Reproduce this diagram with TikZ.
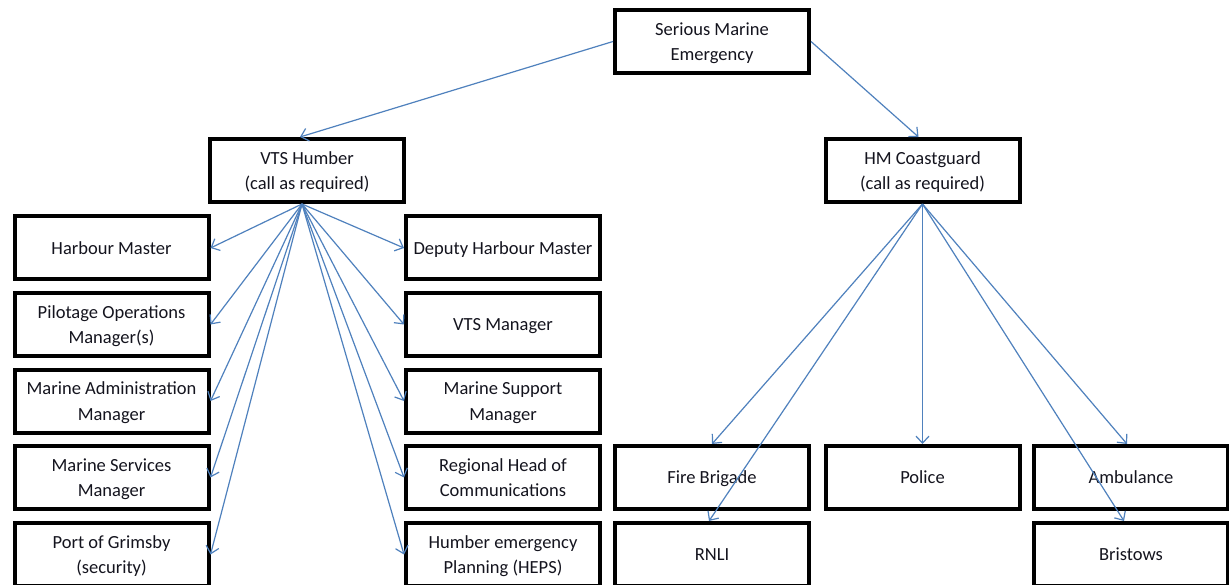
\documentclass[tikz,border=0pt]{standalone}
\usepackage{fontspec}
\setmainfont{Carlito}
\usetikzlibrary{arrows.meta}
\definecolor{lnblue}{RGB}{79,129,189}
\definecolor{txt}{RGB}{20,20,30}
\begin{document}
\begin{tikzpicture}[x=1pt,y=-1pt,
  box/.style={draw=black, line width=4pt, minimum width=194pt, minimum height=63pt,
    align=center, inner sep=0pt, text=txt, text depth=0pt, font=\fontsize{18.5}{25.5}\selectfont},
  conn/.style={draw=lnblue, line width=1.2pt, -{Straight Barb[length=7pt,width=13pt,line width=1.2pt]}}]
\useasboundingbox (0,0) rectangle (1229,585);
\clip (0,0) rectangle (1229,585);
\fill[white] (0,0) rectangle (1229,585);

% top
\node[box] (sme) at (712,41.5) {Serious Marine\\Emergency};
\node[box] (vts) at (307,170.5) {VTS Humber\\(call as required)};
\node[box] (hmc) at (922.5,170.5) {HM Coastguard\\(call as required)};

% VTS left column
\node[box] (hm)  at (111.5,248)   {Harbour Master};
\node[box] (pom) at (111.5,324.5) {Pilotage Operations\\Manager(s)};
\node[box] (mam) at (111.5,401)   {Marine Administration\\Manager};
\node[box] (msm) at (111.5,477.5) {Marine Services\\Manager};
\node[box] (pog) at (111.5,554.5) {Port of Grimsby\\(security)};

% VTS right column
\node[box] (dhm) at (503,248)   {Deputy Harbour Master};
\node[box] (vtm) at (503,324.5) {VTS Manager};
\node[box] (msp) at (503,401)   {Marine Support\\Manager};
\node[box] (rhc) at (503,477.5) {Regional Head of\\Communications};
\node[box] (hep) at (503,554.5) {Humber emergency\\Planning (HEPS)};

% Coastguard side
\node[box] (fire) at (712,477.5)  {Fire Brigade};
\node[box] (pol)  at (922.5,477.5) {Police};
\node[box] (amb)  at (1131,477.5) {Ambulance};
\node[box] (rnli) at (712,554.5)  {RNLI};
\node[box] (bri)  at (1131,554.5) {Bristows};

% connector anchors
\coordinate (vtsb) at ([xshift=-5pt]vts.south);
\coordinate (vtst) at ([xshift=-7pt]vts.north);
\coordinate (hmct) at ([xshift=-4pt]hmc.north);

\draw[conn] (sme.west) -- (vtst);
\draw[conn] (sme.east) -- (hmct);

\foreach \t in {hm,pom,mam,msm,pog} \draw[conn] (vtsb) -- (\t.east);
\foreach \t in {dhm,vtm,msp,rhc,hep} \draw[conn] (vtsb) -- (\t.west);

\draw[conn] (hmc.south) -- (fire.north);
\draw[conn] (hmc.south) -- ([xshift=-3pt]rnli.north);
\draw[conn] (hmc.south) -- (pol.north);
\draw[conn] (hmc.south) -- ([xshift=-4pt]amb.north);
\draw[conn] (hmc.south) -- ([xshift=-7pt]bri.north);
\end{tikzpicture}
\end{document}
